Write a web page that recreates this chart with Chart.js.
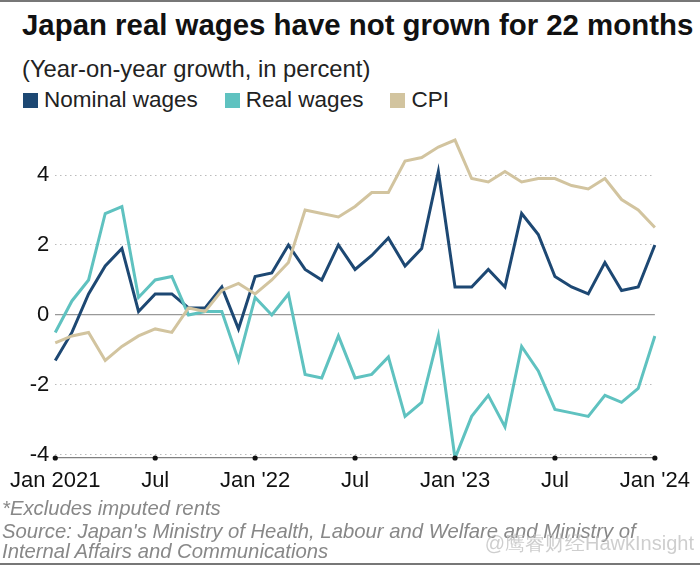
<!DOCTYPE html>
<html>
<head>
<meta charset="utf-8">
<script src="https://cdn.jsdelivr.net/npm/chart.js@4"></script>
<style>
  html, body { margin: 0; padding: 0; background: #fff; }
  body { width: 700px; height: 565px; position: relative; overflow: hidden; font-family: "Liberation Sans", Arial, sans-serif; }
  #chart { position: absolute; left: 0; top: 0; }
  .txt { position: absolute; white-space: nowrap; }
  #title { left: 22px; top: 8px; font-size: 29.4px; font-weight: bold; color: #111; }
  #subtitle { left: 22px; top: 55px; font-size: 23.8px; color: #222; }
  #legend { left: 23px; top: 87px; font-size: 22.5px; color: #222; display: flex; }
  #legend span.item { display: flex; align-items: center; margin-right: 27px; }
  #legend span.box { width: 15px; height: 15px; margin-right: 6px; display: inline-block; }
  .note { left: 2px; font-size: 20.3px; font-style: italic; color: #888; }
  #wm { right: 6px; top: 530px; font-size: 20px; color: rgba(190,190,190,0.75); }
  .rule { position: absolute; left: 0; width: 700px; height: 2px; background: #777; }
</style>
</head>
<body>
<div class="rule" style="top:0"></div>
<div class="txt" id="title">Japan real wages have not grown for 22 months</div>
<div class="txt" id="subtitle">(Year-on-year growth, in percent)</div>
<div class="txt" id="legend"></div>
<canvas id="chart" width="700" height="565"></canvas>
<div class="txt note" style="top:497px">*Excludes imputed rents</div>
<div class="txt note" style="top:520px">Source: Japan's Ministry of Health, Labour and Welfare and Ministry of</div>
<div class="txt note" style="top:540px">Internal Affairs and Communications</div>
<div class="txt" id="wm">@鹰睿财经HawkInsight</div>
<div class="rule" style="top:563px"></div>
<script>
// monthly, Jan 2021 .. Jan 2024
const months = [];
for (let y = 2021; y <= 2024; y++) {
  for (let m = 1; m <= 12; m++) {
    if (y === 2024 && m > 1) break;
    months.push(y + "-" + String(m).padStart(2, "0"));
  }
}
const tickLabels = ["Jan 2021", "Jul", "Jan '22", "Jul", "Jan '23", "Jul", "Jan '24"];

const nominalWages = [-1.3, -0.5, 0.6, 1.4, 1.9, 0.1, 0.6, 0.6, 0.2, 0.2, 0.8, -0.4,
  1.1, 1.2, 2.0, 1.3, 1.0, 2.0, 1.3, 1.7, 2.2, 1.4, 1.9, 4.1,
  0.8, 0.8, 1.3, 0.8, 2.9, 2.3, 1.1, 0.8, 0.6, 1.5, 0.7, 0.8, 2.0];
const realWages = [-0.5, 0.4, 1.0, 2.9, 3.1, 0.5, 1.0, 1.1, 0.0, 0.1, 0.1, -1.3,
  0.5, 0.0, 0.6, -1.7, -1.8, -0.6, -1.8, -1.7, -1.2, -2.9, -2.5, -0.6,
  -4.1, -2.9, -2.3, -3.2, -0.9, -1.6, -2.7, -2.8, -2.9, -2.3, -2.5, -2.1, -0.6];
const cpi = [-0.8, -0.6, -0.5, -1.3, -0.9, -0.6, -0.4, -0.5, 0.2, 0.1, 0.7, 0.9,
  0.6, 1.0, 1.5, 3.0, 2.9, 2.8, 3.1, 3.5, 3.5, 4.4, 4.5, 4.8,
  5.0, 3.9, 3.8, 4.1, 3.8, 3.9, 3.9, 3.7, 3.6, 3.9, 3.3, 3.0, 2.5];
const yTicks = [-4, -2, 0, 2, 4];

const series = [
  { label: "Nominal wages", data: nominalWages, color: "#1d4873" },
  { label: "Real wages", data: realWages, color: "#5fc2c0" },
  { label: "CPI", data: cpi, color: "#d2c49f" }
];

// legend in html
const legend = document.getElementById("legend");
series.forEach(function (s) {
  legend.innerHTML += '<span class="item"><span class="box" style="background:' + s.color + '"></span>' + s.label + '</span>';
});

// black dots on the x axis every 6 months
const tickDots = {
  id: "tickDots",
  afterDraw(chart) {
    const ctx = chart.ctx;
    const x = chart.scales.x;
    ctx.save();
    ctx.fillStyle = "#111";
    for (let i = 0; i < months.length; i += 6) {
      ctx.beginPath();
      ctx.arc(x.getPixelForValue(i), chart.chartArea.bottom, 2.6, 0, Math.PI * 2);
      ctx.fill();
    }
    ctx.restore();
  }
};

new Chart(document.getElementById("chart"), {
  type: "line",
  data: {
    labels: months,
    datasets: series.map(function (s) {
      return {
        label: s.label,
        data: s.data,
        borderColor: s.color,
        backgroundColor: s.color,
        borderWidth: 3,
        pointRadius: 0,
        tension: 0,
        fill: false
      };
    }).reverse()
  },
  options: {
    responsive: false,
    animation: false,
    layout: { padding: { top: 125, right: 39, bottom: 67, left: 0 } },
    plugins: { legend: { display: false }, tooltip: { enabled: false } },
    scales: {
      x: {
        grid: { display: false, drawTicks: false },
        border: { display: true, color: "#808080", width: 1.3 },
        ticks: {
          autoSkip: false,
          maxRotation: 0,
          padding: 10,
          color: "#111",
          font: { family: "Liberation Sans", size: 22 },
          callback: function (v, i) { return i % 6 === 0 ? tickLabels[i / 6] : ""; }
        },
        afterFit: function (s) { s.height = 40; }
      },
      y: {
        min: -4.09,
        max: 5.43,
        afterBuildTicks: function (s) { s.ticks = yTicks.map(function (v) { return { value: v }; }); },
        grid: {
          drawTicks: false,
          color: function (c) { return c.tick && c.tick.value === 0 ? "#999" : "#bbb"; },
          lineWidth: function (c) { return c.tick && c.tick.value === 0 ? 1.2 : 1; }
        },
        border: {
          display: false,
          dash: function (c) { return c.tick && c.tick.value === 0 ? [] : [1.5, 3.5]; }
        },
        ticks: {
          padding: 6,
          color: "#111",
          font: { family: "Liberation Sans", size: 22 }
        },
        afterFit: function (s) { s.width = 54; }
      }
    }
  },
  plugins: [tickDots]
});
</script>
</body>
</html>
